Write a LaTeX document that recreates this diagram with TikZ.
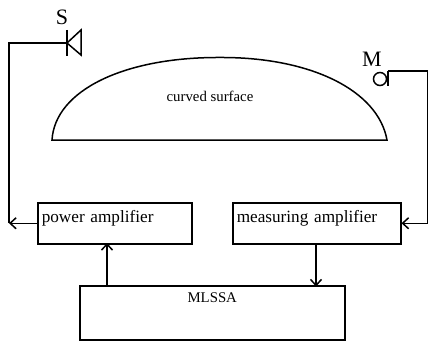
\documentclass[tikz,border=0pt]{standalone}
\usepackage{fontspec}
\usetikzlibrary{arrows.meta}
\setmainfont{Liberation Serif}
\tikzset{
    wire/.style={line width=1.5pt},
    ampbox/.style={draw, line width=1.5pt, anchor=north west, inner xsep=4pt, inner ysep=0pt, align=left, font=\fontsize{17.2}{20}\selectfont},
    smalltext/.style={font=\fontsize{14.8}{17}\selectfont},
    bigtext/.style={font=\fontsize{22}{24}\selectfont}
}
\begin{document}
\begin{tikzpicture}[x=1pt, y=-1pt, >={Straight Barb[length=6pt,width=11pt]}]
    \useasboundingbox (0,0) rectangle (428,342);

    % Curved surface
    \draw[wire] (52,140) .. controls (55,90) and (125,57) .. (220,57.5)
        .. controls (310,57) and (378,90) .. (387,140) -- cycle;
    \node[smalltext] (surface) at (210,96) {curved surface};

    % Source and microphone
    \coordinate (spk) at (67,43);
    \draw[wire] (67,30) -- (67,56);
    \draw[wire] (spk) -- (81,30) -- (81,55) -- cycle;
    \node[bigtext] (slabel) at (62,17) {S};
    \node[draw, circle, wire, minimum size=13pt, inner sep=0pt] (mic) at (380,79) {};
    \draw[wire] (388,71) -- (388,86);
    \coordinate (mictop) at (388,71);
    \node[bigtext] (mlabel) at (372,59) {M};

    % Boxes
    \node[ampbox, text width=146pt, text height=20pt, text depth=21pt] (power) at (37,202) {power amplifier};
    \node[ampbox, text width=160pt, text height=20pt, text depth=21pt] (measuring) at (232,202) {measuring amplifier};
    \node[ampbox, smalltext, align=center, text width=257pt, text height=17pt, text depth=37pt] (mlssa) at (79,285) {MLSSA};

    % Wires
    \draw[wire, ->] (power.west) -- ++(-28,0) coordinate (leftjoin);
    \draw[wire] (leftjoin) |- (spk);
    \draw[wire, <-] (measuring.east) -- ++(26,0) coordinate (rightjoin);
    \draw[wire] (rightjoin) |- (mictop);
    \draw[wire, ->] (mlssa.north west) ++(28,0) -- ++(0,-42);
    \draw[wire, ->] (measuring.south west) ++(84,0) -- ++(0,42);
\end{tikzpicture}
\end{document}
